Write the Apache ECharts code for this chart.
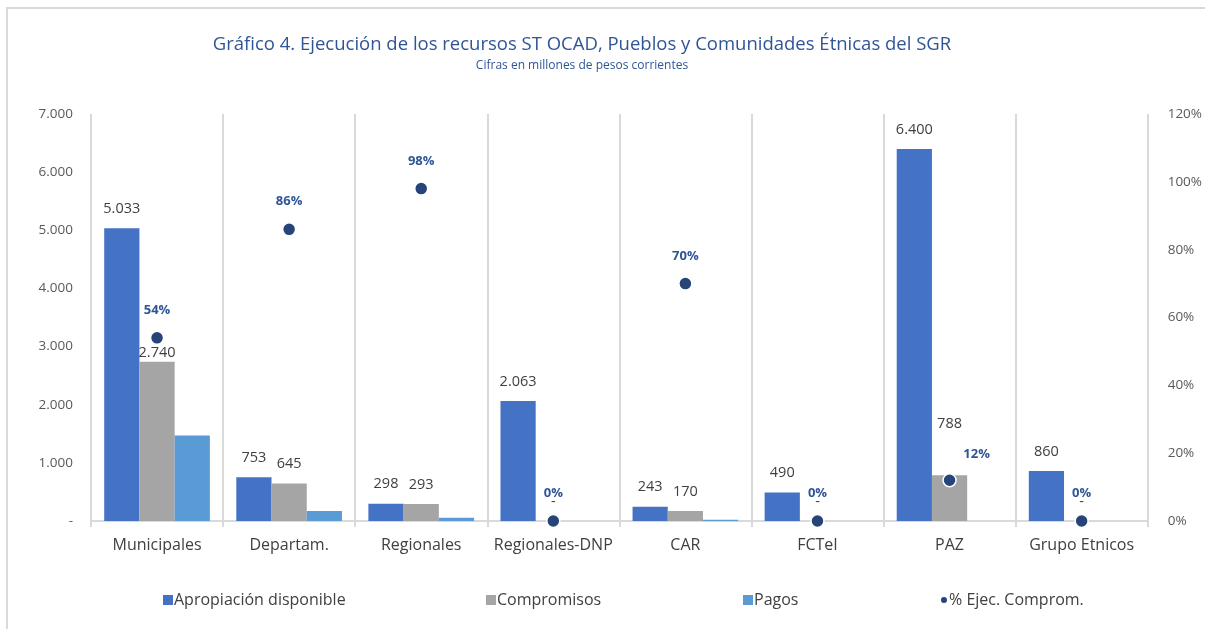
<!DOCTYPE html>
<html lang="es">
<head>
  <meta charset="UTF-8">
  <title>Gráfico 4</title>
  <script src="https://cdn.jsdelivr.net/npm/echarts@6/dist/echarts.min.js"></script>
  <style>
    html, body { margin: 0; padding: 0; background: #fff; }
    #chart { width: 1205px; height: 629px; }
  </style>
</head>
<body>
<div id="chart"></div>
<script>
  // categorias y valores
  var categorias = ['Municipales', 'Departam.', 'Regionales', 'Regionales-DNP', 'CAR', 'FCTeI', 'PAZ', 'Grupo Etnicos'];
  var apropiacion = [5033, 753, 298, 2063, 243, 490, 6400, 860];
  var compromisos = [2740, 645, 293, 0, 170, 0, 788, 0];
  var pagos = [1470, 170, 55, 0, 22, 0, 0, 0];
  var ejecucion = [54, 86, 98, 0, 70, 0, 12, 0];

  var fuente = "'Open Sans', 'Noto Sans', sans-serif";

  // formato de miles con punto, cero como guion
  function miles(v) {
    if (v === 0) return '-';
    return String(v).replace(/\B(?=(\d{3})+(?!\d))/g, '.');
  }

  var chart = echarts.init(document.getElementById('chart'));

  var etiquetaBarra = {
    show: true,
    position: 'top',
    distance: 12,
    color: '#404040',
    fontSize: 14.5,
    fontFamily: fuente,
    formatter: function(p) { return miles(p.value); }
  };

  // algunas etiquetas estan movidas a mano en el original
  var compromisosData = compromisos.map(function(v, i) {
    if (categorias[i] === 'PAZ') return { value: v, label: { distance: 44 } };
    if (categorias[i] === 'Municipales') return { value: v, label: { distance: 1 } };
    return v;
  });
  var ejecucionData = ejecucion.map(function(v, i) {
    if (categorias[i] === 'PAZ') return { value: v, label: { offset: [27, 2] } };
    return v;
  });

  var legendaBase = {
    bottom: 16,
    itemWidth: 10,
    itemHeight: 10,
    textStyle: { color: '#404040', fontSize: 16, fontFamily: fuente, padding: [0, 0, 0, -4] }
  };

  chart.setOption({
    animation: false,
    graphic: [{
      type: 'rect',
      shape: { x: 7, y: 8, width: 1300, height: 700 },
      style: { fill: 'none', stroke: '#D9D9D9', lineWidth: 2 },
      silent: true
    }],
    title: {
      text: 'Gráfico 4. Ejecución de los recursos ST OCAD, Pueblos y Comunidades Étnicas del SGR',
      subtext: 'Cifras en millones de pesos corrientes',
      left: 577,
      textAlign: 'center',
      top: 30,
      itemGap: 6,
      textStyle: { color: '#2F5597', fontSize: 18.5, fontWeight: 'normal', fontFamily: fuente },
      subtextStyle: { color: '#2F5597', fontSize: 12, fontFamily: fuente }
    },
    legend: [
      Object.assign({}, legendaBase, { left: 158, data: [{ name: 'Apropiación disponible', icon: 'rect' }] }),
      Object.assign({}, legendaBase, { left: 481, data: [{ name: 'Compromisos', icon: 'rect' }] }),
      Object.assign({}, legendaBase, { left: 738, data: [{ name: 'Pagos', icon: 'rect' }] }),
      Object.assign({}, legendaBase, { left: 934, itemWidth: 8, data: [{ name: '% Ejec. Comprom.', icon: 'circle' }] })
    ],
    grid: { left: 91, right: 49, top: 114, bottom: 108 },
    xAxis: {
      type: 'category',
      data: categorias,
      axisLine: { lineStyle: { color: '#D9D9D9', width: 2 } },
      axisTick: { show: true, interval: 0, length: 6, lineStyle: { color: '#D9D9D9', width: 2 } },
      splitLine: { show: true, interval: 0, lineStyle: { color: '#D9D9D9', width: 2 } },
      axisLabel: { interval: 0, color: '#404040', fontSize: 16, fontFamily: fuente, margin: 16 }
    },
    yAxis: [{
      type: 'value',
      min: 0,
      max: 7000,
      interval: 1000,
      splitLine: { show: false },
      axisLine: { show: false },
      axisLabel: { color: '#595959', fontSize: 13.5, fontFamily: fuente, margin: 18, formatter: miles }
    }, {
      type: 'value',
      min: 0,
      max: 120,
      interval: 20,
      splitLine: { show: false },
      axisLine: { show: false },
      axisLabel: { color: '#595959', fontSize: 13.5, fontFamily: fuente, margin: 20, formatter: '{value}%' }
    }],
    series: [{
      name: 'Apropiación disponible',
      type: 'bar',
      data: apropiacion,
      barGap: '0%',
      barCategoryGap: '20%',
      itemStyle: { color: '#4472C4' },
      label: etiquetaBarra
    }, {
      name: 'Compromisos',
      type: 'bar',
      data: compromisosData,
      itemStyle: { color: '#A5A5A5' },
      label: etiquetaBarra
    }, {
      name: 'Pagos',
      type: 'bar',
      data: pagos,
      itemStyle: { color: '#5B9BD5' }
    }, {
      name: '% Ejec. Comprom.',
      type: 'scatter',
      yAxisIndex: 1,
      data: ejecucionData,
      symbolSize: 13,
      z: 5,
      itemStyle: { color: '#264478', opacity: 1, borderColor: '#fff', borderWidth: 1.5 },
      label: {
        show: true,
        position: 'top',
        distance: 14,
        color: '#2F5597',
        fontWeight: 'bold',
        fontSize: 13,
        fontFamily: fuente,
        formatter: '{c}%'
      }
    }]
  });
</script>
</body>
</html>
